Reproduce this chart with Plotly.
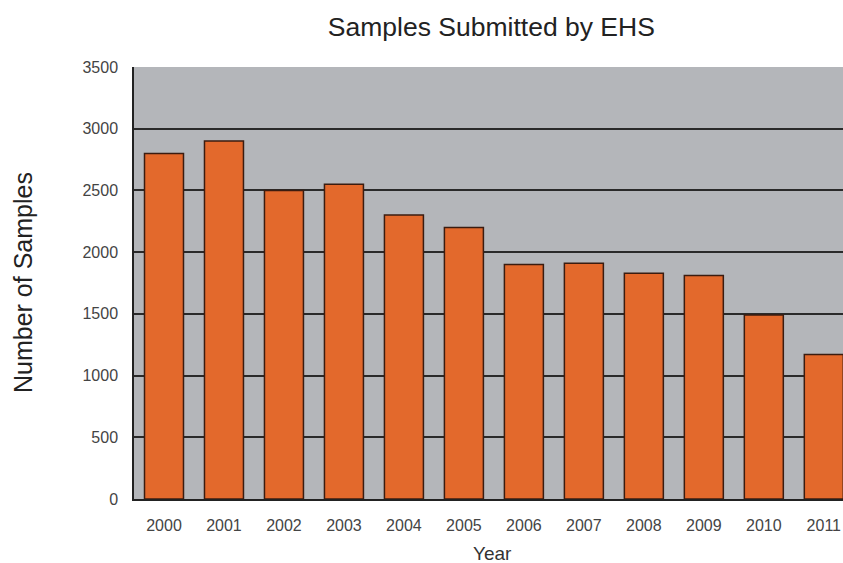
import plotly.graph_objects as go

years = ["2000", "2001", "2002", "2003", "2004", "2005", "2006", "2007", "2008", "2009", "2010", "2011"]
samples = [2800, 2900, 2500, 2550, 2300, 2200, 1900, 1910, 1830, 1810, 1490, 1170]
y_ticks = [0, 500, 1000, 1500, 2000, 2500, 3000, 3500]

fig = go.Figure()
fig.add_trace(go.Bar(
    x=years, y=samples, width=0.65,
    marker=dict(color="#e3692c", line=dict(color="#3b1c10", width=1.5)),
))

fig.update_layout(
    width=843, height=563,
    margin=dict(l=134, r=0, t=67, b=64),
    paper_bgcolor="white",
    plot_bgcolor="#b4b6ba",
    showlegend=False,
    font=dict(family="Liberation Sans, Arial, sans-serif"),
    title=dict(text="Samples Submitted by EHS", xref="paper", x=0.504, xanchor="center",
               yref="container", y=0.953, yanchor="middle",
               font=dict(size=26.5, color="#222")),
    annotations=[
        dict(text="Number of Samples", textangle=-90, xref="paper", yref="paper",
             x=0, y=0.5, xanchor="center", yanchor="middle", xshift=-111,
             showarrow=False, font=dict(size=25, color="#222")),
        dict(text="Year", xref="paper", yref="paper", x=0.505, y=0,
             xanchor="center", yanchor="middle", yshift=-54,
             showarrow=False, font=dict(size=19, color="#333")),
    ],
)
fig.update_xaxes(
    type="category", range=[-0.5, 11.32],
    showline=True, linecolor="#222", linewidth=1.5,
    showgrid=False, ticks="",
    tickfont=dict(size=16, color="#444"), ticklabelstandoff=11,
)
fig.update_yaxes(
    range=[0, 3500], tickvals=y_ticks,
    showline=True, linecolor="#222", linewidth=1.5,
    showgrid=True, gridcolor="#2a2a2a", gridwidth=1.6,
    zeroline=False, ticks="",
    tickfont=dict(size=16, color="#444"), ticklabelstandoff=11,
)

fig.write_html("out.html", config={"displayModeBar": False},
               post_script="document.body.style.margin='0';document.body.style.overflow='hidden';")
